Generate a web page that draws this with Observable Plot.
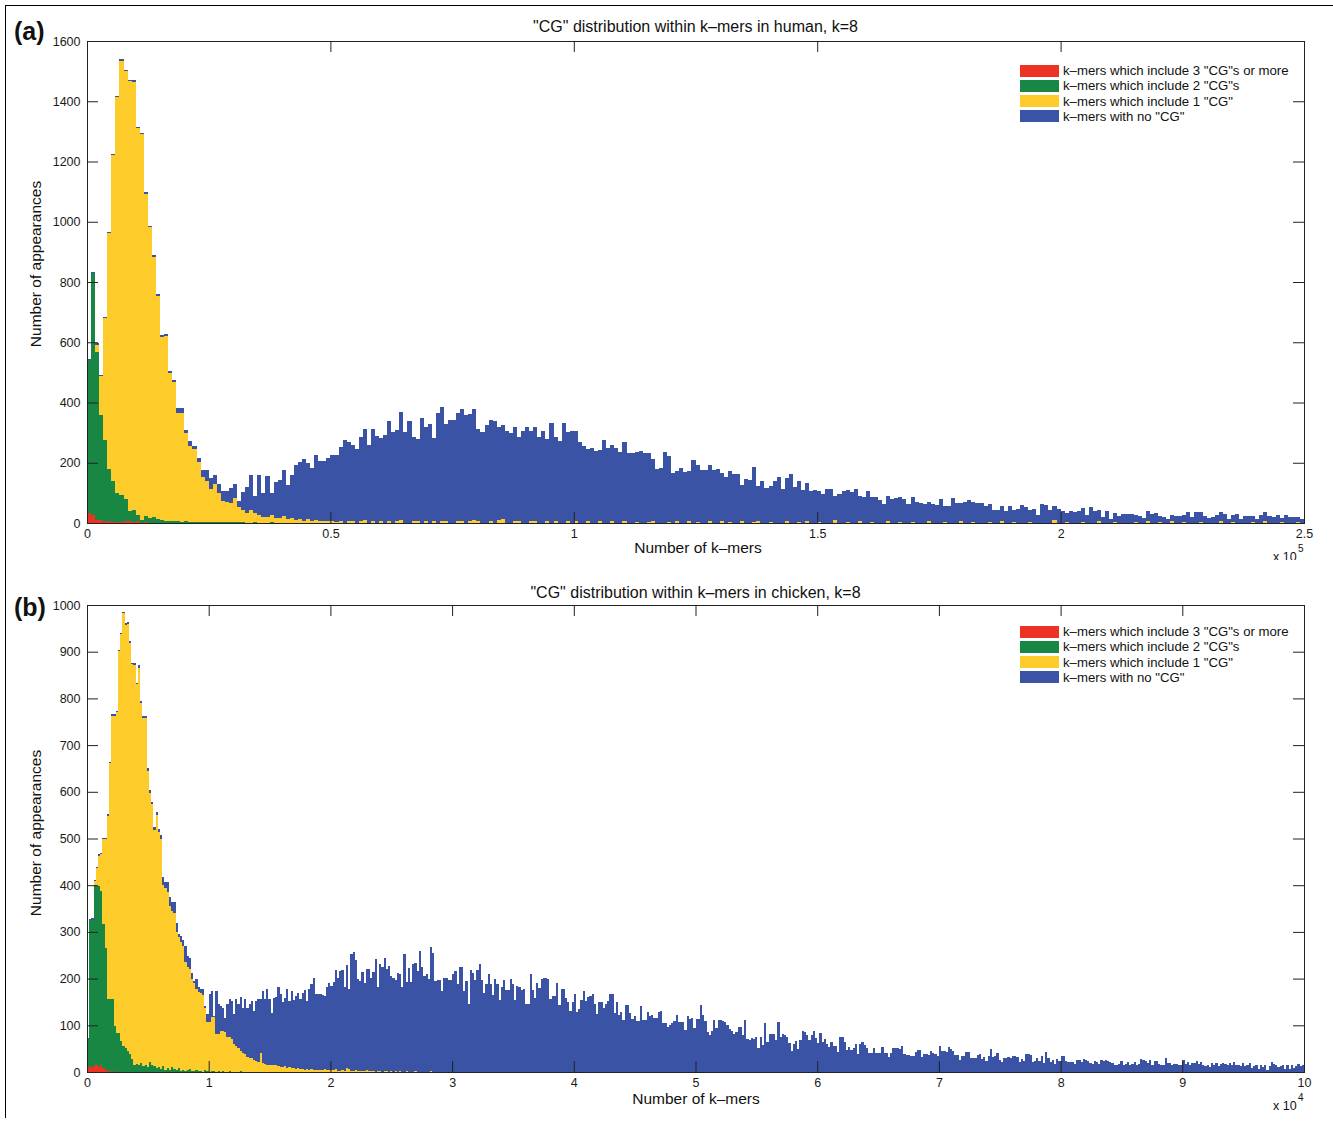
<!DOCTYPE html>
<html>
<head>
<meta charset="utf-8">
<script src="https://cdn.jsdelivr.net/npm/d3@7"></script>
<script src="https://cdn.jsdelivr.net/npm/@observablehq/plot@0.6"></script>
<style>
  html, body { margin: 0; padding: 0; background: #fff; }
  #fig { position: relative; width: 1333px; height: 1122px; background: #fff; overflow: hidden;
         font-family: "Liberation Sans", Arial, Helvetica, sans-serif; color: #111; }
  #fig svg { position: absolute; left: 0; }
  .t { position: absolute; white-space: nowrap; line-height: 1; }
  .title { left: 87px; width: 1217px; text-align: center; font-size: 16px; }
  .panel { font-weight: bold; font-size: 25px; left: 14px; }
  .ylab { font-size: 15.5px; transform: translate(-50%, -50%) rotate(-90deg); }
  .xlab { font-size: 15.5px; transform: translate(-50%, -50%); }
  .mult { font-size: 12.5px; }
  .sup { position: absolute; font-size: 10px; line-height: 1; }
  .sw { position: absolute; width: 39px; height: 12px; }
  .lt { position: absolute; font-size: 13.2px; line-height: 1; white-space: nowrap; }
  .border { position: absolute; left: 5px; top: 5px; width: 1340px; height: 1112px; border-left: 1px solid #000; border-top: 1px solid #000; pointer-events: none; }
</style>
</head>
<body>
<div id="fig"></div>
<script>
// ---------- shared ----------
const seriesNames = ['k–mers which include 3 "CG"s or more', 'k–mers which include 2 "CG"s', 'k–mers which include 1 "CG"', 'k–mers with no "CG"'];
const seriesColors = ["#ED3224", "#188744", "#FDCC2A", "#3A53A4"];

// ---------- panel (a): human, 300 bins over 0..2.5e5 ----------
const aTitle = '"CG" distribution within k–mers in human, k=8';
const aBins = 300;
const aXMax = 250000;
const aYTicks = [0, 200, 400, 600, 800, 1000, 1200, 1400, 1600];
const aXTicks = [0, 50000, 100000, 150000, 200000, 250000];
const aXTickLabels = ["0", "0.5", "1", "1.5", "2", "2.5"];
const aExponent = "5";

const aRed = [32,27,10,10,2,5,2,2,2,5,5,2,5,0,4,0];
const aGreen = [510,802,556,348,273,174,137,98,91,75, 35,41,22,10,20,18,21,13,10,7, 8,5,6,4,6,4,4,3,3,3, 4,2,2,2,2,3,2,2,2,1, 1,2,1,1,0,2,0,1];
const aYellowHead = [0,0,26,129,406,784,1081,1313,1442,1420, 1426,1421,1283,1281,1069,964,863,741,609,614, 491,462,358,362,293,253,242,198,151,137, 108,129,96,71,68,64,80,52,41,31, 42,30,26,20,20,25,15,14,22,12, 15,10,12,8,12,8,10,6,8,5, 6,4];
const aYellowTail1 = [6,0,8,5,0,7,10,0,5,0, 6,0,8,0,5,9,0,0,6,5, 0,7,0,5,0,6,8,0,0,5, 6,0,7,10,5,0,0,6,0,9, 12,0,0,6,5,0,0,5,7,0, 0,5,0,6,0,0,5,0,6,0, 0,8,0,0,5,0,0,6,0,0, 5,0,0,4,0,0,4,6,0,0];
const aYellowTail2 = [0,4,0,5,0,0,6,0,3,0, 0,5,0,0,8,0,4,0,0,5, 0,0,4,6,0,0,3,0,0,0, 5,0,0,4,0,6,0,0,4,0, 0,0,9,0,0,4,0,0,5,0, 0,4,0,0,0,5,0,0,4,0, 0,3,0,0,0,6,0,0,0,4, 0,0,0,5,0,0,4,0,0,0, 4,0,0,6,0,0,4,0,0,0, 3,0,0,0,0,0,10,0,0,4, 0,0,0,4,0,0,0,5,0,0, 0,4,0,0,0,0,4,0,0,5, 0,0,4,0,0,6,0,0,4,0, 0,0,4,0,0,0,0,5,0,0, 4,0,0,0,0,4,0,0,5,0, 0,0,4,0,0,0,4,0];
const aBlueHead = [4,4,4,4,4,4,4,5,5,5, 5,5,5,5,5,5,5,6,6,6, 6,7,18,16,9,15,9,16,22,36, 38,28,33,33,36,50,46,20,61,88, 116,58,132,77,135,71,122,128,153,114, 144,184,191,204,186,175,215,201,199,210, 219,222];
const aBlueMid = [247,276,260,255,247,280,302,259,306,290, 275,293,331,302,304,360,303,337,279,275, 350,312,327,278,365,379,322,341,342,360, 371,357,354,369,307,301,326,337,337,310, 314,306,298,313,280,306,318,299,312,286, 307,273,333,280,272,333,296,307,298,270, 256,238,248,239,236,276,249,252,249,236, 265,231,231,231,239,233,229,207,178,182];
const aBlueTail1 = [236,220,165,166,182,168,168,209,189,177, 175,189,177,179,158,152,168,163,163,120, 146,142,183,118,140,115,121,140,153,114, 146,162,118,135,109,126,105,111,101,96, 112,113,80,95,105,105,102,113,86,86, 106,81,85,78,63,85,80,84,83,81, 64,83,70,68,63,65,64,61,80,53, 58,83,66,60,70,75,66,68,68,58];
const aBlueTail2 = [58,44,44,49,39,58,38,47,59,54, 39,47,28,63,61,43,48,48,40,28, 39,37,41,45,27,52,39,39,21,40, 14,30,22,30,29,29,24,23,18,34, 31,34,19,19,12,21,24,23,21,35, 19,37,32,24,16,21,27,30,30,13, 23,30,12,23,23,18,12,25,30,22, 19,25,14,25,19,19,17,13];

// ---------- panel (b): chicken, 550 bins over 0..1e5 ----------
const bTitle = '"CG" distribution within k–mers in chicken, k=8';
const bBins = 550;
const bXMax = 100000;
const bYTicks = [0, 100, 200, 300, 400, 500, 600, 700, 800, 900, 1000];
const bXTicks = [0, 10000, 20000, 30000, 40000, 50000, 60000, 70000, 80000, 90000, 100000];
const bXTickLabels = ["0", "1", "2", "3", "4", "5", "6", "7", "8", "9", "10"];
const bExponent = "4";

const bRed = [8,12,10,15,14,10,14,8,5,3,2,0,2,0,1,0,0,1,0,0,1];
const bGreen = [62,313,316,385,384,388,374,308,261,153, 154,156,97,84,83,66,56,50,45,38, 27,14,18,14,20,12,16,10,22,14, 12,8,10,6,12,5,8,4,10,6, 4,8,3,5,2,4,6,3,2,5, 2,3,1,4,2,1,3,2,1,2, 1,2,0,1,2,0,1,1,0,2];
const bYellowHead = [0,0,0,8,39,65,79,182,233,393, 505,607,664,687,817,872,927,907,915,881, 845,858,812,852,770,746,742,635,576,559, 507,542,503,494,388,390,377,351,335,334, 296,282,275,265,233,220,214,196,188,172, 170,167,164,134,104,105,115,115,80,79, 87,86,86,73,72,70,59,55,52,43, 41,38,33,31,30,26,24,22,41,20, 18,16,16,14,15,14,12,11,10,12, 9,10,8,9,7,8,6,7,5,6, 5,6,4,5,4,5,4,6,4,5];
const bYellowTail = [5,4,6,3,2,4,3,8,7,3, 2,4,3,2,3,2,4,2,3,2, 1,3,2,1,2,3,1,2,1,2, 1,2,1,1,2,1,0,1,2,1, 1,0,1,1,0,2,1,0,1,1, 0];
const bBlueHead = [2,3,4,3,3,3,3,3,3,3, 3,3,3,3,3,3,3,3,3,3, 3,4,4,5,5,5,5,5,6,6, 6,7,7,7,18,11,21,19,19,23, 20,5,13,12,35,25,25,14,5,22, 9,7,12,3,19,60,56,3,93,64, 53,50,30,71,83,82,64,100,93,116, 97,118,105,115,122,105,128,134,116,154, 138,161,140,113,143,147,169,155,139,147, 168,142,166,145,156,162,150,163,171,146, 172,182,198,161,162,161,160,157,177,186];
const bBlueMid = [179,189,213,198,214,215,180,221,171,250, 255,235,196,193,211,189,216,218,198,213, 242,179,230,224,243,217,225,204,200,194, 211,208,181,251,191,222,193,230,231,216, 258,224,204,208,199,266,254,195,195,195, 173,202,202,196,196,209,217,189,224,224, 174,195,146,218,211,196,218,231,198,170, 188,210,188,164,200,188,155,181,196,175, 175,200,188,155,185,181,175,178,145,145, 209,175,159,190,180,199,202,201,199,157, 163,163,191,143,178,178,159,150,130,150, 168,129,135,154,174,153,161,162,166,146, 125,149,149,136,145,151,168,168,126,149, 121,129,111,143,143,126,114,119,109,109, 141,112,111,128,119,121,116,116,129];
const bBlueTail1 = [130,105,104,96,101,104, 109,121,106,106,106,89,119,114,116,94, 114,113,144,121,109,86,79,88,112,95, 111,111,110,106,101,93,87,81,86,96, 97,79,112,71,69,72,71,75,52,76, 57,104,64,82,82,81,69,108,75,81, 79,75,62,46,61,66,49,68,87,85, 80,69,79,87,73,63,84,64,71,61, 54,65,55,56,43,75,74,64,48,54, 48,51,61,38,59,65,57,52,41,41, 51,41,41,41,53,41,41,32,41,51, 52,51,49,56,39,37,37,35,35,42, 48,48,32,39,39,36,46,41,38,34, 55,44,44,43,53,49,45,36,37,26, 35,34,43,43,29,29,29,37,39];
const bBlueTail2 = [27,32,24,34,49,32,34,41, 26,21,29,31,32,31,35,34,32,22, 27,24,38,38,37,21,24,29,24,34, 20,42,30,21,26,18,27,23,35,35, 24,21,21,22,18,26,25,21,28,25, 24,19,18,23,21,18,26,24,25,24, 21,20,14,15,18,23,16,17,21,14, 18,21,14,17,28,25,24,19,25,15, 23,23,18,16,15,29,19,19,15,18, 18,15,16,25,18,21,14,19,19,24, 18,22,16,12,16,11,19,14,20,12, 18,19,17,15,19,14,22,14,16,12, 19,13,15,19,9,12,15,6,14,11, 14,4,12,21,18,16,11,12,16,7, 16,7,16,8,12,18,13,14];

// ---------- drawing ----------
const fig = document.getElementById("fig");

function addEl(cls, html, style) {
  const d = document.createElement("div");
  d.className = cls;
  d.innerHTML = html;
  Object.assign(d.style, style);
  fig.appendChild(d);
  return d;
}
function esc(s) { return s.replace(/&/g, "&amp;").replace(/</g, "&lt;").replace(/"/g, "&quot;"); }

function drawPanel(cfg) {
  const W = 1333, mL = 87, mR = 29;
  const plotW = W - mL - mR;
  const plotH = cfg.height - cfg.marginTop - cfg.marginBottom;
  const bw = cfg.xMax / cfg.nBins;
  const rows = [];
  cfg.series.forEach((arr, s) => {
    arr.forEach((v, i) => {
      if (i < cfg.nBins && v > 0) rows.push({x1: i * bw, x2: (i + 1) * bw, count: v, series: seriesNames[s]});
    });
  });
  const xLab = new Map(cfg.xTicks.map((t, i) => [t, cfg.xTickLabels[i]]));
  const svg = Plot.plot({
    width: W, height: cfg.height,
    marginLeft: mL, marginRight: mR, marginTop: cfg.marginTop, marginBottom: cfg.marginBottom,
    style: {fontFamily: '"Liberation Sans", Arial, Helvetica, sans-serif', fontSize: "12.5px", color: "#1a1a1a", background: "white"},
    x: {domain: [0, cfg.xMax]},
    y: {domain: [0, cfg.yMax]},
    color: {domain: seriesNames, range: seriesColors},
    marks: [
      Plot.rectY(rows, {x1: "x1", x2: "x2", y: "count", fill: "series", inset: 0, shapeRendering: "crispEdges"}),
      Plot.tickY(cfg.yTicks, {y: d => d, insetRight: plotW - 11, stroke: "#222"}),
      Plot.tickY(cfg.yTicks, {y: d => d, insetLeft: plotW - 11, stroke: "#222"}),
      Plot.tickX(cfg.xTicks, {x: d => d, insetTop: plotH - 11, stroke: "#222"}),
      Plot.tickX(cfg.xTicks, {x: d => d, insetBottom: plotH - 11, stroke: "#222"}),
      Plot.frame({stroke: "#222"}),
      Plot.axisX(cfg.xTicks, {tickSize: 0, tickPadding: 6, tickFormat: d => xLab.get(d), fontSize: 12.5, label: null}),
      Plot.axisY(cfg.yTicks, {tickSize: 0, tickPadding: 7, tickFormat: d => String(d), fontSize: 12.5, label: null})
    ]
  });
  svg.style.top = cfg.top + "px";
  fig.appendChild(svg);

  // texts
  addEl("t title", esc(cfg.title), {top: (cfg.titleY - 8) + "px"});
  addEl("t panel", cfg.panel, {top: (cfg.panelY - 13) + "px"});
  addEl("t ylab", "Number of appearances", {left: "36px", top: cfg.ylabY + "px"});
  addEl("t xlab", "Number of k–mers", {left: cfg.xlabX + "px", top: cfg.xlabY + "px"});
  addEl("t mult", "x 10", {left: "1273px", top: (cfg.multY - 6) + "px"});
  addEl("sup", cfg.exponent, {left: "1298px", top: (cfg.multY - 13) + "px"});
  // legend
  seriesNames.forEach((name, i) => {
    const y = cfg.legendTop + i * 15.3;
    addEl("sw", "", {left: "1020px", top: y + "px", background: seriesColors[i]});
    addEl("lt", esc(name), {left: "1063px", top: (y - 0.5) + "px"});
  });
}

drawPanel({
  top: 0, height: 560, marginTop: 41, marginBottom: 37,
  nBins: aBins, xMax: aXMax, yMax: 1600, yTicks: aYTicks, xTicks: aXTicks, xTickLabels: aXTickLabels,
  series: [aRed, aGreen, [...aYellowHead, ...aYellowTail1, ...aYellowTail2], [...aBlueHead, ...aBlueMid, ...aBlueTail1, ...aBlueTail2]],
  title: aTitle, titleY: 27, panel: "(a)", panelY: 32, ylabY: 264, xlabX: 698, xlabY: 548, multY: 557, exponent: aExponent,
  legendTop: 64.5
});
drawPanel({
  top: 560, height: 562, marginTop: 45, marginBottom: 50,
  nBins: bBins, xMax: bXMax, yMax: 1000, yTicks: bYTicks, xTicks: bXTicks, xTickLabels: bXTickLabels,
  series: [bRed, bGreen, [...bYellowHead, ...bYellowTail], [...bBlueHead, ...bBlueMid, ...bBlueTail1, ...bBlueTail2]],
  title: bTitle, titleY: 593, panel: "(b)", panelY: 608, ylabY: 833, xlabX: 696, xlabY: 1099, multY: 1106, exponent: bExponent,
  legendTop: 625.5
});
addEl("border", "", {});
</script>
</body>
</html>
